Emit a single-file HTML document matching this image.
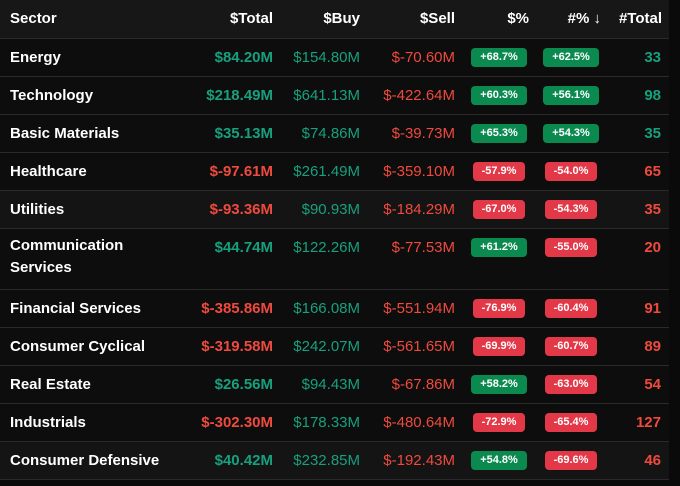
<!DOCTYPE html>
<html><head><style>
body{margin:0;background:#0a0a0a;width:680px;height:486px;overflow:hidden;font-family:"Liberation Sans",sans-serif;}
table{border-collapse:collapse;table-layout:fixed;width:669px;}
td,th{height:38px;padding:0 8px;font-size:15px;white-space:nowrap;border-bottom:1.5px solid #2a2a2a;vertical-align:top;padding-top:9px;box-sizing:border-box;line-height:19px;}
th{background:#171717;color:#fff;font-weight:bold;text-align:right;height:38px;padding-top:9px;}
th:first-child,td:first-child{text-align:left;padding-left:10px;color:#fff;font-weight:bold;}
tr{background:#0d0d0d}
tr.l{background:#141414}
.g{color:#17a07e}.r{color:#ef4a3e}
.b{font-weight:bold}
.n{text-align:right}
.c{text-align:center;padding:0;padding-top:9px}
.p{display:inline-block;vertical-align:top;font-size:11px;font-weight:bold;color:#fff;border-radius:4px;padding:0 9px;height:19px;line-height:19px;margin-top:0px}
.pg{background:#0b8a50}.pr{background:#e23848}
</style></head><body>
<table>
<colgroup><col style="width:190px"><col style="width:91px"><col style="width:87px"><col style="width:95px"><col style="width:72px"><col style="width:72px"><col style="width:62px"></colgroup>
<tr><th>Sector</th><th>$Total</th><th>$Buy</th><th>$Sell</th><th style="padding-right:6px">$%</th><th style="padding-right:6px">#% ↓</th><th style="padding-right:7px">#Total</th></tr>
<tr><td>Energy</td><td class="n g b">$84.20M</td><td class="n g">$154.80M</td><td class="n r">$-70.60M</td><td class="c"><span class="p pg">+68.7%</span></td><td class="c"><span class="p pg">+62.5%</span></td><td class="n g b">33</td></tr>
<tr><td>Technology</td><td class="n g b">$218.49M</td><td class="n g">$641.13M</td><td class="n r">$-422.64M</td><td class="c"><span class="p pg">+60.3%</span></td><td class="c"><span class="p pg">+56.1%</span></td><td class="n g b">98</td></tr>
<tr><td>Basic Materials</td><td class="n g b">$35.13M</td><td class="n g">$74.86M</td><td class="n r">$-39.73M</td><td class="c"><span class="p pg">+65.3%</span></td><td class="c"><span class="p pg">+54.3%</span></td><td class="n g b">35</td></tr>
<tr><td>Healthcare</td><td class="n r b">$-97.61M</td><td class="n g">$261.49M</td><td class="n r">$-359.10M</td><td class="c"><span class="p pr">-57.9%</span></td><td class="c"><span class="p pr">-54.0%</span></td><td class="n r b">65</td></tr>
<tr class="l"><td>Utilities</td><td class="n r b">$-93.36M</td><td class="n g">$90.93M</td><td class="n r">$-184.29M</td><td class="c"><span class="p pr">-67.0%</span></td><td class="c"><span class="p pr">-54.3%</span></td><td class="n r b">35</td></tr>
<tr><td style="height:61px;line-height:22px;padding-top:6px">Communication<br>Services</td><td class="n g b">$44.74M</td><td class="n g">$122.26M</td><td class="n r">$-77.53M</td><td class="c"><span class="p pg">+61.2%</span></td><td class="c"><span class="p pr">-55.0%</span></td><td class="n r b">20</td></tr>
<tr><td>Financial Services</td><td class="n r b">$-385.86M</td><td class="n g">$166.08M</td><td class="n r">$-551.94M</td><td class="c"><span class="p pr">-76.9%</span></td><td class="c"><span class="p pr">-60.4%</span></td><td class="n r b">91</td></tr>
<tr><td>Consumer Cyclical</td><td class="n r b">$-319.58M</td><td class="n g">$242.07M</td><td class="n r">$-561.65M</td><td class="c"><span class="p pr">-69.9%</span></td><td class="c"><span class="p pr">-60.7%</span></td><td class="n r b">89</td></tr>
<tr><td>Real Estate</td><td class="n g b">$26.56M</td><td class="n g">$94.43M</td><td class="n r">$-67.86M</td><td class="c"><span class="p pg">+58.2%</span></td><td class="c"><span class="p pr">-63.0%</span></td><td class="n r b">54</td></tr>
<tr><td>Industrials</td><td class="n r b">$-302.30M</td><td class="n g">$178.33M</td><td class="n r">$-480.64M</td><td class="c"><span class="p pr">-72.9%</span></td><td class="c"><span class="p pr">-65.4%</span></td><td class="n r b">127</td></tr>
<tr class="l"><td>Consumer Defensive</td><td class="n g b">$40.42M</td><td class="n g">$232.85M</td><td class="n r">$-192.43M</td><td class="c"><span class="p pg">+54.8%</span></td><td class="c"><span class="p pr">-69.6%</span></td><td class="n r b">46</td></tr>
</table>
</body></html>
